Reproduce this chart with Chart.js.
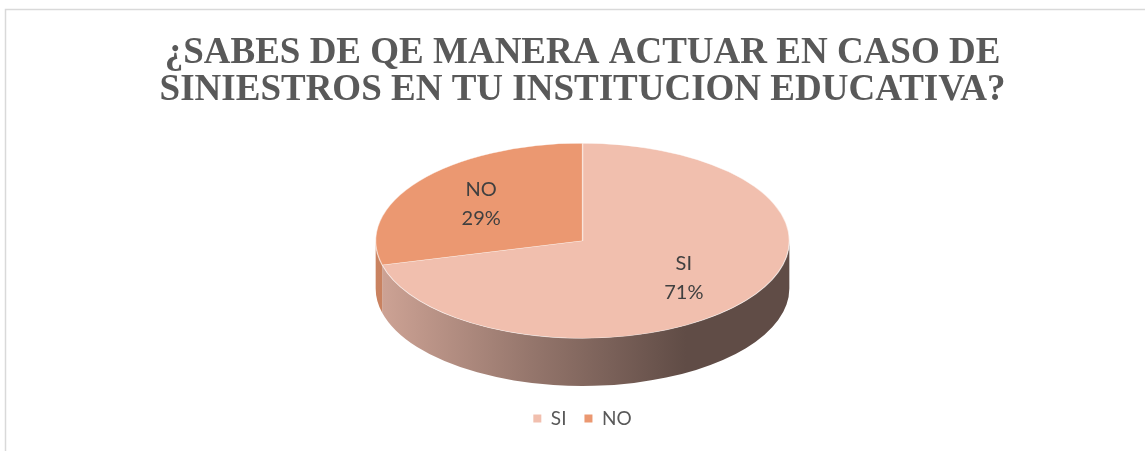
<!DOCTYPE html>
<html>
<head>
<meta charset="utf-8">
<script src="https://cdn.jsdelivr.net/npm/chart.js@4.4.0/dist/chart.umd.min.js"></script>
<style>
    html, body { margin: 0; padding: 0; background: #fff; }
</style>
</head>
<body>
<canvas id="chart" width="1145" height="451"></canvas>
<script>
// data
var categories = ['SI', 'NO'];
var percentages = [71, 29];
var sliceColors = ['#F1BFAE', '#EB9871'];
var titleLines = ['¿SABES DE QE MANERA ACTUAR EN CASO DE', 'SINIESTROS EN TU INSTITUCION EDUCATIVA?'];

// look of the 3d disc
var TILT = 98 / 208;      // vertical radius / horizontal radius
var DEPTH = 48 / 208;     // side height / horizontal radius
var PIE_FILL = 0.96;      // share of the chart area height used by the disc
var LABEL_POS = 0.62;

function shade(hex, f) {
    var n = parseInt(hex.slice(1), 16);
    return 'rgb(' + Math.round((n >> 16 & 255) * f) + ',' + Math.round((n >> 8 & 255) * f) + ',' + Math.round((n & 255) * f) + ')';
}

function pieFrame(chart) {
    var area = chart.chartArea;
    var arc = chart.getDatasetMeta(0).data[0];
    var total = area.height * PIE_FILL;
    var rx = total / (2 * TILT + DEPTH);
    var ry = rx * TILT;
    return {
        rx: rx, ry: ry, depth: rx * DEPTH,
        cx: arc.x,
        cy: area.top + (area.height - total) / 2 + ry,
        r: arc.outerRadius, ax: arc.x, ay: arc.y
    };
}

var framePlugin = {
    id: 'frame',
    beforeDraw: function (chart) {
        var ctx = chart.ctx;
        ctx.save();
        ctx.strokeStyle = '#d9d9d9';
        ctx.lineWidth = 1.5;
        ctx.strokeRect(5.5, 9.5, chart.width + 20, chart.height + 20);
        ctx.restore();
    }
};

var pie3dPlugin = {
    id: 'pie3d',
    beforeDatasetsDraw: function (chart) {
        var ctx = chart.ctx;
        var f = pieFrame(chart);
        var meta = chart.getDatasetMeta(0);

        // front wall of each slice
        meta.data.forEach(function (el, i) {
            [0, 2 * Math.PI, -2 * Math.PI].forEach(function (off) {
                var a0 = Math.max(el.startAngle + off, 0);
                var a1 = Math.min(el.endAngle + off, Math.PI);
                if (a1 <= a0) return;
                ctx.save();
                ctx.beginPath();
                ctx.ellipse(f.cx, f.cy, f.rx, f.ry, 0, a0, a1);
                ctx.ellipse(f.cx, f.cy + f.depth, f.rx, f.ry, 0, a1, a0, true);
                ctx.closePath();
                var g = ctx.createLinearGradient(f.cx - f.rx, 0, f.cx + f.rx * 0.5, 0);
                g.addColorStop(0, shade(sliceColors[i], 0.86));
                g.addColorStop(0.5, shade(sliceColors[i], 0.62));
                g.addColorStop(1, shade(sliceColors[i], 0.40));
                ctx.fillStyle = g;
                ctx.fill();
                ctx.restore();
            });
        });

        // squash the flat pie into the tilted top face
        ctx.save();
        ctx.translate(f.cx, f.cy);
        ctx.scale(f.rx / f.r, f.ry / f.r);
        ctx.translate(-f.ax, -f.ay);
    },
    afterDatasetsDraw: function (chart) {
        var ctx = chart.ctx;
        ctx.restore();

        var f = pieFrame(chart);
        var meta = chart.getDatasetMeta(0);
        ctx.save();
        ctx.font = '20px Lato';
        ctx.fillStyle = '#404040';
        ctx.textAlign = 'center';
        ctx.textBaseline = 'middle';
        meta.data.forEach(function (el, i) {
            var mid = (el.startAngle + el.endAngle) / 2;
            var x = f.cx + Math.cos(mid) * f.rx * LABEL_POS;
            var y = f.cy + Math.sin(mid) * f.ry * LABEL_POS;
            ctx.fillText(categories[i], x, y - 14);
            ctx.fillText(percentages[i] + '%', x, y + 15);
        });
        ctx.restore();
    }
};

var defaultLabels = Chart.overrides.doughnut.plugins.legend.labels.generateLabels;

var chart = new Chart(document.getElementById('chart'), {
    type: 'pie',
    data: {
        labels: categories,
        datasets: [{
            data: percentages,
            backgroundColor: sliceColors,
            borderColor: 'rgba(255,255,255,0.55)',
            borderWidth: 0.8,
            clip: false
        }]
    },
    options: {
        responsive: false,
        animation: false,
        devicePixelRatio: 1,
        layout: { padding: { left: 20, right: 0, top: 35, bottom: 13 } },
        plugins: {
            title: {
                display: true,
                text: titleLines,
                color: '#595959',
                font: { family: 'Liberation Serif', size: 37, weight: 'bold', lineHeight: 0.99 },
                padding: { top: 0, bottom: 30 }
            },
            legend: {
                position: 'bottom',
                labels: {
                    boxWidth: 8,
                    boxHeight: 8,
                    padding: 18,
                    color: '#595959',
                    font: { family: 'Lato', size: 19 },
                    generateLabels: function (c) {
                        return defaultLabels(c).map(function (l) {
                            l.lineWidth = 0;
                            return l;
                        });
                    }
                }
            },
            tooltip: { enabled: false }
        }
    },
    plugins: [framePlugin, pie3dPlugin]
});
</script>
</body>
</html>
